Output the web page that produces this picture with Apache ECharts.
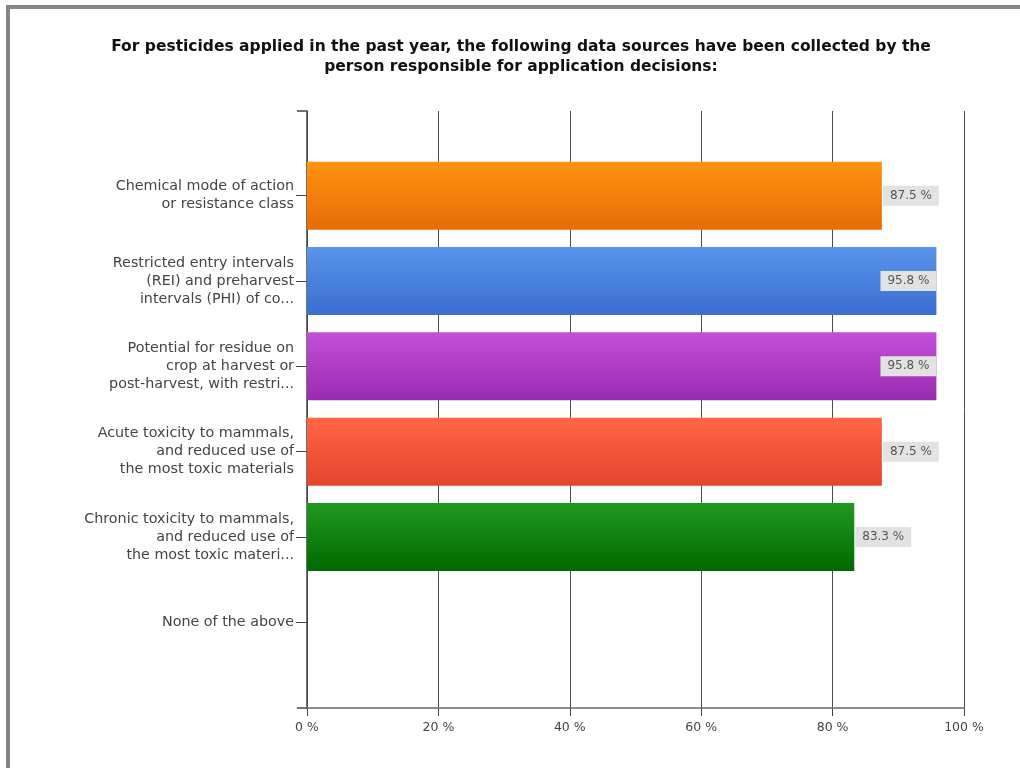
<!DOCTYPE html>
<html>
<head>
<meta charset="utf-8">
<script src="https://cdn.jsdelivr.net/npm/echarts@6/dist/echarts.min.js"></script>
<style>
html,body{margin:0;padding:0;background:#fff;}
#chart{width:1020px;height:768px;}
</style>
</head>
<body>
<div id="chart"></div>
<script>
var titleText = "For pesticides applied in the past year, the following data sources have been collected by the\nperson responsible for application decisions:";
var categories = [
  "Chemical mode of action\nor resistance class",
  "Restricted entry intervals\n(REI) and preharvest\nintervals (PHI) of co...",
  "Potential for residue on\ncrop at harvest or\npost-harvest, with restri...",
  "Acute toxicity to mammals,\nand reduced use of\nthe most toxic materials",
  "Chronic toxicity to mammals,\nand reduced use of\nthe most toxic materi...",
  "None of the above"
];
var values = [87.5, 95.8, 95.8, 87.5, 83.3, 0];
var barColors = [
  ["#ff9410", "#e86a06"],
  ["#5b93ea", "#3a6ed0"],
  ["#c24fd8", "#9a2bb0"],
  ["#ff6646", "#e2452a"],
  ["#1f9a1f", "#016901"],
  ["#999999", "#777777"]
];
var xTicks = [0, 20, 40, 60, 80, 100];

var FONT = "DejaVu Sans, Verdana, sans-serif";

var seriesData = values.map(function (v, i) {
  var inside = v > 92;
  return {
    value: v,
    itemStyle: {
      color: new echarts.graphic.LinearGradient(0, 0, 0, 1, [
        { offset: 0, color: barColors[i][0] },
        { offset: 1, color: barColors[i][1] }
      ])
    },
    label: {
      show: v > 0,
      position: inside ? 'insideRight' : 'right',
      distance: inside ? 0 : 1
    }
  };
});

var chart = echarts.init(document.getElementById('chart'), null, { renderer: 'canvas' });
chart.setOption({
  backgroundColor: '#ffffff',
  animation: false,
  title: {
    text: titleText,
    left: 516,
    textAlign: 'center',
    top: 32,
    textStyle: { fontFamily: FONT, fontWeight: 'bold', fontSize: 15.5, lineHeight: 20, color: '#111' }
  },
  graphic: [{
    type: 'rect',
    shape: { x: 8, y: 7, width: 1100, height: 900 },
    style: { fill: 'none', stroke: '#858585', lineWidth: 4 },
    silent: true
  }],
  grid: [
    { left: 307, right: 56, top: 111, bottom: 60 },
    { left: 307, right: 56, top: 153, height: 512 }
  ],
  xAxis: [
    {
      gridIndex: 0, type: 'value', min: xTicks[0], max: xTicks[xTicks.length - 1], interval: 20,
      axisLine: { show: true, lineStyle: { color: '#8c8c8c', width: 2 } },
      axisTick: { show: true, length: 8, lineStyle: { color: '#444', width: 1 } },
      axisLabel: { formatter: '{value} %', color: '#444', fontSize: 12.5, fontFamily: FONT, margin: 13 },
      splitLine: { show: true, lineStyle: { color: '#4a4a4a', width: 1 } }
    },
    { gridIndex: 1, type: 'value', min: 0, max: 100, show: false }
  ],
  yAxis: [
    {
      gridIndex: 0, type: 'value', min: 0, max: 1, interval: 1,
      axisLine: { show: true, lineStyle: { color: '#444', width: 1.5 } },
      axisTick: { show: true, length: 10, lineStyle: { color: '#444', width: 1.5 } },
      axisLabel: { show: false },
      splitLine: { show: false }
    },
    {
      gridIndex: 1, type: 'category', data: categories, inverse: true,
      axisLine: { show: false },
      axisTick: { show: true, alignWithLabel: true, length: 11, lineStyle: { color: '#444', width: 1 } },
      axisLabel: { color: '#444', fontSize: 14.3, lineHeight: 18, fontFamily: FONT, margin: 13, align: 'right' },
      splitLine: { show: false }
    }
  ],
  series: [{
    type: 'bar',
    xAxisIndex: 1,
    yAxisIndex: 1,
    barWidth: 68,
    data: seriesData,
    label: {
      show: true,
      formatter: '{c} %',
      backgroundColor: '#e2e2e2',
      padding: [4, 7],
      color: '#555',
      fontSize: 12,
      fontFamily: FONT
    }
  }]
});
</script>
</body>
</html>
